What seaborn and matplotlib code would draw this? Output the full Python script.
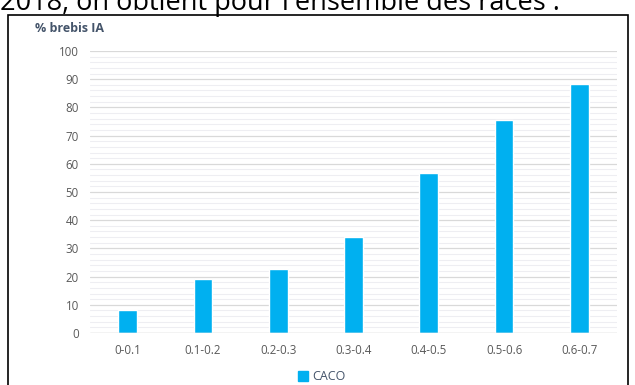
import matplotlib.pyplot as plt
import matplotlib.patches as mpatches
from matplotlib.ticker import MultipleLocator
import pandas as pd
import seaborn as sns

# classes et % de brebis IA
classes = ['0-0.1', '0.1-0.2', '0.2-0.3', '0.3-0.4', '0.4-0.5', '0.5-0.6', '0.6-0.7']
caco = [8.2, 19.2, 22.8, 34.0, 56.8, 75.5, 88.3]
serie = 'CACO'

df = pd.DataFrame({'classe': classes, 'pct': caco, 'serie': serie})

sns.set_theme(style='white')
plt.rcParams['font.family'] = ['Open Sans', 'DejaVu Sans']

gris = '#595959'
bleu = '#00B0F0'
fig = plt.figure(figsize=(6.35, 3.85), dpi=100)
ax = fig.add_axes([90 / 635, 1 - 333 / 385, 527 / 635, 282 / 385])

sns.barplot(data=df, x='classe', y='pct', hue='serie', palette=[bleu],
            saturation=1, width=0.25, ax=ax, legend=False)

ax.set_ylim(0, 100)
ax.set_xlim(-0.5, 6.5)
ax.yaxis.set_major_locator(MultipleLocator(10))
ax.yaxis.set_minor_locator(MultipleLocator(2))
ax.grid(axis='y', which='major', color='#D9D9D9', lw=0.9)
ax.grid(axis='y', which='minor', color='#EEEEF2', lw=0.8)
ax.set_axisbelow(True)
for s in ax.spines.values():
    s.set_visible(False)
ax.axhline(0, color='#D9D9D9', lw=1)
ax.tick_params(axis='both', labelsize=8.3, colors=gris, length=0, pad=8)
ax.tick_params(axis='y', which='minor', length=0)
ax.set_xlabel('')
ax.set_ylabel('')

# titre de l'axe
fig.text(35 / 635, 1 - 28 / 385, '% brebis IA', fontsize=9, fontweight='bold',
         color='#44546A', va='center', ha='left')

# légende
handle = mpatches.Patch(color=bleu, label=serie)
leg = fig.legend(handles=[handle], loc='center', bbox_to_anchor=(322 / 635, 1 - 377 / 385),
                 frameon=False, fontsize=9, handlelength=0.8, handleheight=0.8,
                 handletextpad=0.3, borderaxespad=0)
for t in leg.get_texts():
    t.set_color('#44546A')

# cadre
fig.add_artist(mpatches.Rectangle((8 / 635, -0.05), 620 / 635, 1 - 15 / 385 + 0.05,
                                  transform=fig.transFigure, fill=False,
                                  edgecolor='black', lw=1.2))

# texte du document coupé en haut
fig.text(0, 1 - 10 / 385, "2018, on obtient pour l'ensemble des races :",
         fontsize=19.5, color='black', ha='left', va='baseline')

fig.savefig('out.png', dpi=100)
